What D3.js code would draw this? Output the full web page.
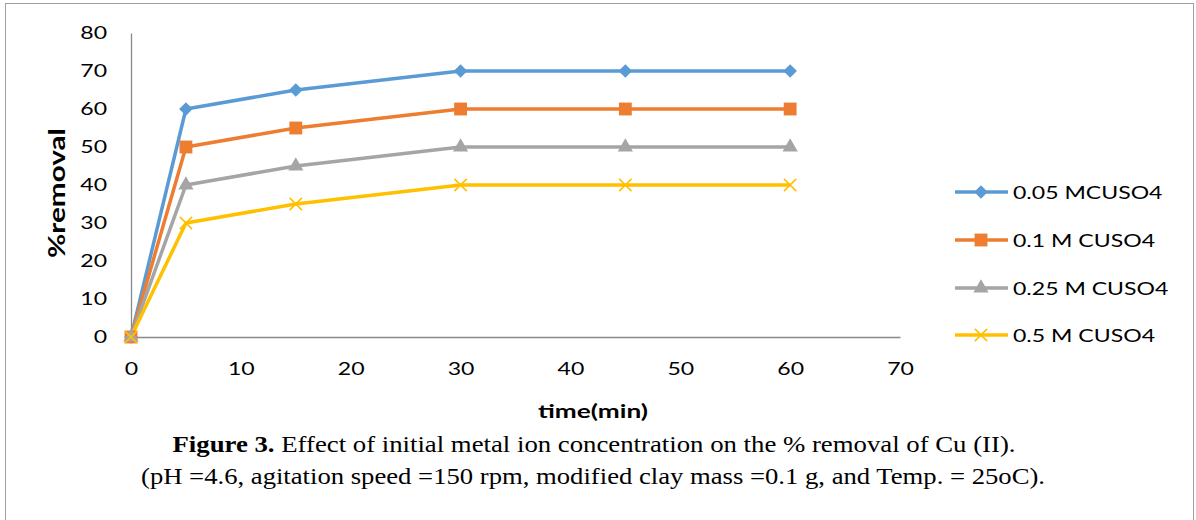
<!DOCTYPE html>
<html><head><meta charset="utf-8">
<script src="https://cdn.jsdelivr.net/npm/d3@7"></script>
<style>body{margin:0;background:#fff;}svg{display:block;}</style>
</head><body>
<svg id="c" width="1196" height="520"></svg>
<script>
const times = [0, 5, 15, 30, 45, 60];
const seriesNames = ["0.05 MCUSO4", "0.1 M CUSO4", "0.25 M CUSO4", "0.5 M CUSO4"];
const s005 = [0, 60, 65, 70, 70, 70];
const s01 = [0, 50, 55, 60, 60, 60];
const s025 = [0, 40, 45, 50, 50, 50];
const s05 = [0, 30, 35, 40, 40, 40];
const xTicks = [0, 10, 20, 30, 40, 50, 60, 70];
const yTicks = [0, 10, 20, 30, 40, 50, 60, 70, 80];
const colors = ["#5B9BD5", "#ED7D31", "#A5A5A5", "#FFC000"];
const values = [s005, s01, s025, s05];

const svg = d3.select("#c");
svg.append("rect").attr("x", 5.5).attr("y", 3.5).attr("width", 1188).attr("height", 530)
  .attr("fill", "none").attr("stroke", "#a0a0a0").attr("stroke-width", 1);

const x = d3.scaleLinear().domain([0, 70]).range([131, 900]);
const y = d3.scaleLinear().domain([0, 80]).range([337, 33]);
const font = "Lato, 'Open Sans', sans-serif";
const stretch = 1.28;
function widen(sel, k) {
  sel.each(function () {
    const w = this.getComputedTextLength();
    d3.select(this).attr("textLength", w * k).attr("lengthAdjust", "spacingAndGlyphs");
  });
}

const markers = [
  (g) => g.append("path").attr("d", d3.symbol().type(d3.symbolSquare).size(92)()).attr("transform", "rotate(45)").attr("fill", colors[0]),
  (g) => g.append("path").attr("d", d3.symbol().type(d3.symbolSquare).size(165)()).attr("fill", colors[1]),
  (g) => g.append("path").attr("d", d3.symbol().type(d3.symbolTriangle).size(100)()).attr("fill", colors[2]),
  (g) => g.append("path").attr("d", d3.symbol().type(d3.symbolX).size(100)()).attr("fill", "none").attr("stroke", colors[3]).attr("stroke-width", 1.6)
];

// axes
const xAxis = svg.append("g").attr("transform", `translate(0,${y(0)})`)
  .call(d3.axisBottom(x).tickValues(xTicks).tickSize(0).tickPadding(25));
xAxis.select(".domain").attr("stroke", "#898989").attr("stroke-width", 1.3);
xAxis.selectAll("text").attr("font-family", font).attr("font-size", 18).attr("fill", "#000").call(widen, stretch);

const yAxis = svg.append("g").attr("transform", `translate(${x(0)},0)`)
  .call(d3.axisLeft(y).tickValues(yTicks).tickSize(0).tickPadding(24));
yAxis.select(".domain").attr("stroke", "#898989").attr("stroke-width", 1.3);
yAxis.selectAll("text").attr("font-family", font).attr("font-size", 18).attr("fill", "#000").call(widen, stretch);

// axis titles
svg.append("text").attr("x", 593).attr("y", 418).attr("text-anchor", "middle")
  .attr("font-family", font).attr("font-weight", "bold").attr("font-size", 19)
  .attr("textLength", 110).attr("lengthAdjust", "spacingAndGlyphs").text("time(min)");
svg.append("text").attr("transform", "translate(65,193) rotate(-90)").attr("text-anchor", "middle")
  .attr("font-family", font).attr("font-weight", "bold").attr("font-size", 23)
  .attr("textLength", 130).attr("lengthAdjust", "spacingAndGlyphs").text("%removal");

// lines
const line = d3.line().x((d, i) => x(times[i])).y(d => y(d));
values.forEach((vals, k) => {
  svg.append("path").datum(vals).attr("d", line).attr("fill", "none")
    .attr("stroke", colors[k]).attr("stroke-width", 3.5).attr("stroke-linejoin", "round");
});
values.forEach((vals, k) => {
  vals.forEach((d, i) => {
    const g = svg.append("g").attr("transform", `translate(${x(times[i])},${y(d)})`);
    markers[k](g);
  });
});

// legend
const legY = [192, 240, 288, 335];
seriesNames.forEach((name, k) => {
  const g = svg.append("g").attr("transform", `translate(0,${legY[k]})`);
  g.append("line").attr("x1", 955).attr("x2", 1008).attr("y1", 0).attr("y2", 0)
    .attr("stroke", colors[k]).attr("stroke-width", 3.5);
  markers[k](g.append("g").attr("transform", "translate(981,0)"));
  g.append("text").attr("x", 1013).attr("y", 6.5).attr("font-family", font).attr("font-size", 18)
    .attr("fill", "#000").text(name).call(widen, stretch);
});

// caption
const serif = "'Liberation Serif', 'Times New Roman', Times, serif";
const cap1 = svg.append("text").attr("x", 594).attr("y", 452).attr("text-anchor", "middle")
  .attr("font-family", serif).attr("font-size", 24)
  .attr("textLength", 843).attr("lengthAdjust", "spacingAndGlyphs");
cap1.append("tspan").attr("font-weight", "bold").text("Figure 3.");
cap1.append("tspan").text(" Effect of initial metal ion concentration on the % removal of Cu (II).");
svg.append("text").attr("x", 593).attr("y", 484).attr("text-anchor", "middle")
  .attr("font-family", serif).attr("font-size", 24)
  .attr("textLength", 904).attr("lengthAdjust", "spacingAndGlyphs")
  .text("(pH =4.6, agitation speed =150 rpm, modified clay mass =0.1 g, and Temp. = 25oC).");
</script>
</body></html>
